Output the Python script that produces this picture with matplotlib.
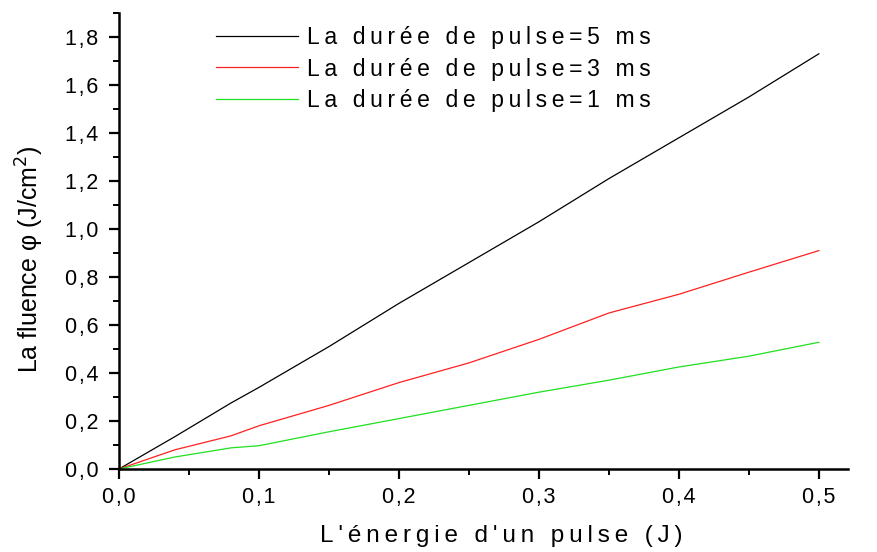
import matplotlib.pyplot as plt
from matplotlib.ticker import MultipleLocator, FuncFormatter

# Data
energie = [0.0, 0.04, 0.08, 0.1, 0.15, 0.2, 0.25, 0.3, 0.35, 0.4, 0.45, 0.5]
fluence_5ms = [0.0, 0.135, 0.275, 0.34, 0.51, 0.69, 0.86, 1.03, 1.21, 1.38, 1.55, 1.73]
fluence_3ms = [0.0, 0.08, 0.138, 0.18, 0.265, 0.36, 0.442, 0.54, 0.65, 0.728, 0.82, 0.91]
fluence_1ms = [0.0, 0.05, 0.088, 0.097, 0.155, 0.21, 0.265, 0.32, 0.37, 0.425, 0.47, 0.528]
labels = ['La durée de pulse=5 ms', 'La durée de pulse=3 ms', 'La durée de pulse=1 ms']

plt.rcParams['font.family'] = ['Liberation Sans', 'DejaVu Sans']


def spaced(s, sep='\u2009'):
    # wide letter spacing like the original Origin export
    return sep.join(s)


def virgule(v, pos):
    return spaced(f'{v:.1f}'.replace('.', ','), '\u200a')


fig = plt.figure(figsize=(8.77, 5.52), dpi=100)
ax = fig.add_axes([0.1357, 0.1504, 0.831, 0.826])

ax.plot(energie, fluence_5ms, color='black', lw=0.9, label=spaced(labels[0]))
ax.plot(energie, fluence_3ms, color='#ff2020', lw=0.9, label=spaced(labels[1]))
ax.plot(energie, fluence_1ms, color='#20e020', lw=0.9, label=spaced(labels[2]))

ax.set_xlim(0, 0.5207)
ax.set_ylim(0, 1.9)

ax.xaxis.set_major_locator(MultipleLocator(0.1))
ax.xaxis.set_minor_locator(MultipleLocator(0.05))
ax.yaxis.set_major_locator(MultipleLocator(0.2))
ax.yaxis.set_minor_locator(MultipleLocator(0.1))
ax.xaxis.set_major_formatter(FuncFormatter(virgule))
ax.yaxis.set_major_formatter(FuncFormatter(virgule))

for s in ['top', 'right']:
    ax.spines[s].set_visible(False)
for s in ['left', 'bottom']:
    ax.spines[s].set_linewidth(1.8)

ax.tick_params(which='major', direction='out', length=7.5, width=1.6, labelsize=15.5)
ax.tick_params(which='minor', direction='out', length=4.5, width=1.4)
ax.tick_params(axis='y', pad=7.5)
ax.tick_params(axis='x', pad=5.5)

ax.set_xlabel(spaced("L'énergie d'un pulse (J)"), fontsize=17.5)
ax.xaxis.set_label_coords(0.524, -0.122)
ax.set_ylabel('La fluence φ (J/cm$^2$)', fontsize=18)
ax.yaxis.set_label_coords(-0.1, 0.46)

leg = ax.legend(loc='upper left', bbox_to_anchor=(0.133, 0.972), frameon=False,
                borderaxespad=0, borderpad=0,
                prop={'size': 16.5}, handlelength=3.58, handletextpad=0.39,
                labelspacing=0.38)

plt.savefig('out.png', dpi=100)
